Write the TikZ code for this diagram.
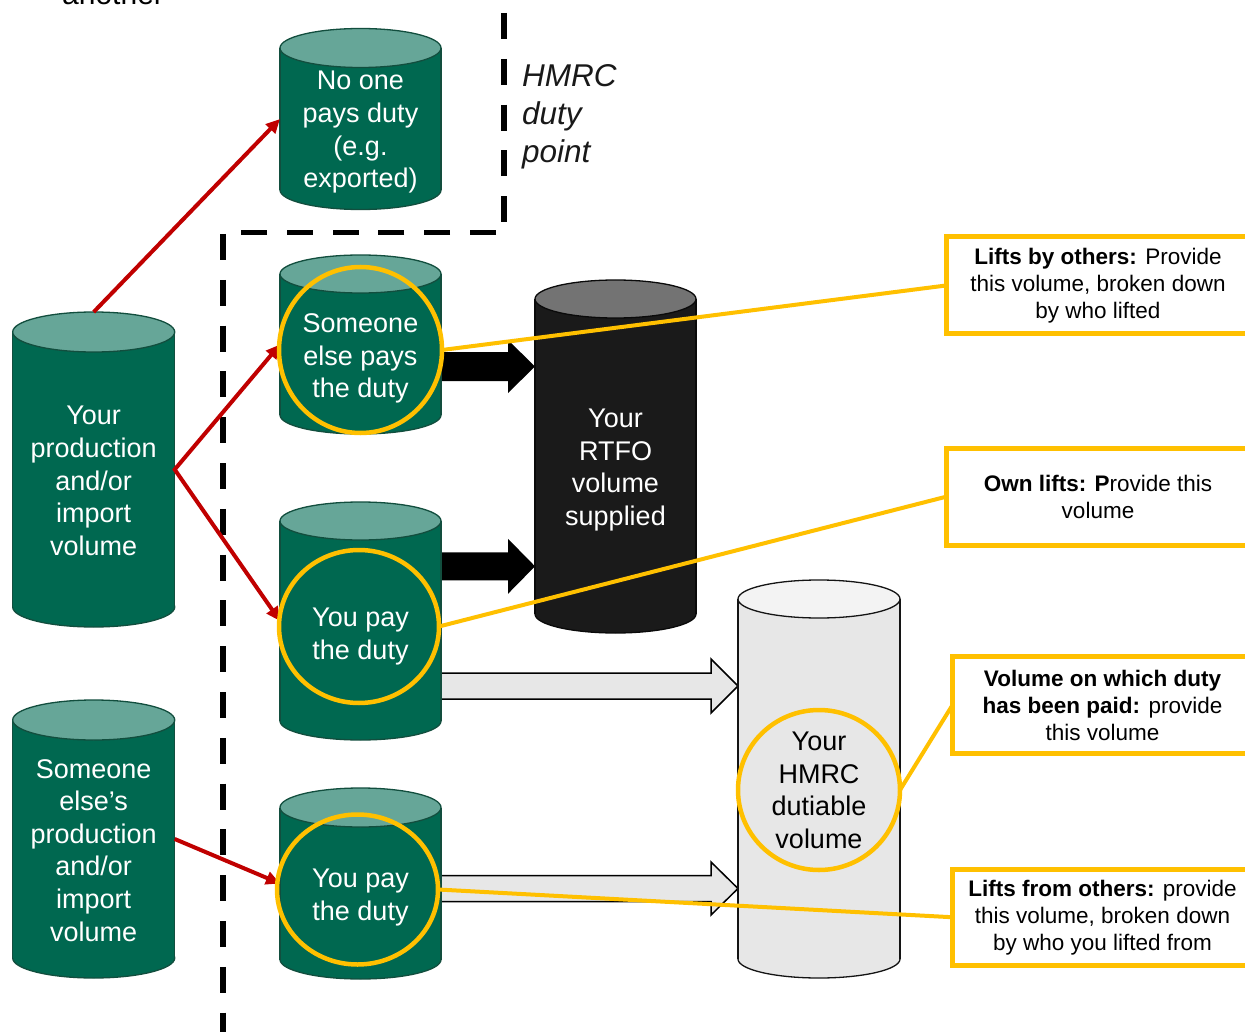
\documentclass[tikz,border=0pt]{standalone}
\usepackage{fontspec}
\setmainfont{Liberation Sans}
\usetikzlibrary{shapes.geometric,arrows.meta}
\definecolor{gbody}{RGB}{0,104,80}
\definecolor{gtop}{RGB}{102,166,152}
\definecolor{gline}{RGB}{18,78,62}
\definecolor{kbody}{RGB}{26,26,26}
\definecolor{ktop}{RGB}{115,115,115}
\definecolor{kline}{RGB}{10,10,10}
\definecolor{wbody}{RGB}{231,231,231}
\definecolor{wtop}{RGB}{243,243,243}
\definecolor{wline}{RGB}{20,20,20}
\definecolor{dred}{RGB}{192,0,0}
\definecolor{gold}{RGB}{255,192,0}
% #1 name, #2 cx, #3 rx, #4 y top centre, #5 y bottom centre, #6 ry, #7 body, #8 top, #9 line
\newcommand{\drawcyl}[9]{%
  \draw[cylline, draw=#9, fill=#7] (#2,#5) ellipse [x radius=#3pt, y radius=#6pt];
  \fill[#7] (#2-#3,#4) rectangle (#2+#3,#5);
  \draw[cylline, draw=#9] (#2-#3,#4) -- (#2-#3,#5) (#2+#3,#4) -- (#2+#3,#5);
  \draw[cylline, draw=#9, fill=#8] (#2,#4) ellipse [x radius=#3pt, y radius=#6pt];
  \node[cylbox, minimum width={2*#3}, minimum height={#5-#4+2*#6}] (#1) at (#2,{(#4+#5)/2}) {};
}
% #1 x start, #2 x tip, #3 y centre, #4 shaft half, #5 head half, #6 head length, #7 style
\newcommand{\blockarrow}[7]{%
  \path[#7] (#1,#3-#4) -- (#2-#6,#3-#4) -- (#2-#6,#3-#5) -- (#2,#3)
    -- (#2-#6,#3+#5) -- (#2-#6,#3+#4) -- (#1,#3+#4) -- cycle;
}
\begin{document}
\begin{tikzpicture}[x=1pt,y=-1pt,
  cylline/.style={line width=1.3pt},
  cylbox/.style={rectangle, inner sep=0pt, outer sep=0pt},
  cyltext/.style={text=white, align=center, anchor=north, inner sep=0pt, font=\fontsize{27}{32.6}\selectfont},
  hilite/.style={ellipse, draw=gold, line width=4.5pt, inner sep=0pt, outer sep=0pt},
  redarrow/.style={draw=dred, line width=4pt, line join=miter},
  goldline/.style={draw=gold, line width=4pt},
  callout/.style={rectangle, draw=gold, line width=5pt, fill=white, align=center, inner sep=0pt, outer sep=0pt, font=\fontsize{22.5}{27}\selectfont},
  dutyline/.style={line width=5.5pt, dash pattern=on 26pt off 19.8pt},
  blk/.style={fill=black},
  wht/.style={fill=wbody, draw=black, line width=1.5pt, line join=miter}
]
\useasboundingbox (0,0) rectangle (1245,1032);
\fill[white] (0,0) rectangle (1245,1032);
\clip (0,0) rectangle (1245,1032);

% partial text at the top edge
\node[anchor=base west, inner sep=0pt, font=\fontsize{30}{36}\selectfont] (anoth) at (62,5) {another};

% HMRC duty point boundary
\draw[dutyline] (504,13) -- (504,222);
\draw[dutyline] (496,232.5) -- (240,232.5);
\draw[dutyline] (223,234) -- (223,1040);
\node[anchor=north west, inner sep=0pt, align=left, text=black!90, font=\fontsize{31.5}{38}\selectfont\itshape] (hmrc) at (522,64.3) {HMRC\\duty\\point};

% block arrows (under the cylinders)
\blockarrow{430}{535}{366.5}{14.5}{26.5}{27}{blk}
\blockarrow{430}{535}{566.3}{14}{27.5}{27}{blk}
\blockarrow{430}{738}{686}{13}{27}{27}{wht}
\blockarrow{430}{738}{888.5}{13}{26.5}{27}{wht}

% cylinders
\drawcyl{A}{360.5}{80.5}{48}{190}{19.5}{gbody}{gtop}{gline}
\drawcyl{B}{360.5}{80.5}{274}{415}{19}{gbody}{gtop}{gline}
\drawcyl{C}{360.5}{80.5}{521}{721}{19}{gbody}{gtop}{gline}
\drawcyl{D}{360.5}{80.5}{807.5}{959.5}{19.5}{gbody}{gtop}{gline}
\drawcyl{E}{93.7}{81}{332}{607}{20}{gbody}{gtop}{gline}
\drawcyl{F}{93.7}{81}{720}{958}{20}{gbody}{gtop}{gline}
\drawcyl{R}{615.5}{80.5}{299}{614}{19}{kbody}{ktop}{kline}
\drawcyl{H}{819}{81}{599}{959}{19}{wbody}{wtop}{wline}

% red flows
\draw[redarrow, -{Triangle[length=14pt,width=13pt]}] (E.north) -- (A.west);
\draw[redarrow, {Triangle[length=14pt,width=13pt]}-{Triangle[length=14pt,width=13pt]}] (B.west) -- (E.east) -- (C.west);
\draw[redarrow, -{Triangle[length=14pt,width=13pt]}] (F.east) -- (D.west);

% highlight rings
\node[hilite, minimum width=163pt, minimum height=166pt] (cB) at (360.5,350) {};
\node[hilite, minimum width=160pt, minimum height=153pt] (cC) at (359,626.5) {};
\node[hilite, minimum width=161pt, minimum height=150pt] (cD) at (357.5,889.5) {};
\node[hilite, minimum width=162pt, minimum height=160pt] (cH) at (819,790) {};

% cylinder texts
\node[cyltext] (tA) at (360.5,71.2) {No one\\pays duty\\(e.g.\\exported)};
\node[cyltext] (tB) at (360.5,313.5) {Someone\\else pays\\the duty};
\node[cyltext] (tC) at (360.5,608) {You pay\\the duty};
\node[cyltext] (tD) at (360.5,869) {You pay\\the duty};
\node[cyltext] (tE) at (93.7,406.2) {Your\\production\\and/or\\import\\volume};
\node[cyltext] (tF) at (93.7,759) {Someone\\else’s\\production\\and/or\\import\\volume};
\node[cyltext] (tR) at (615.5,408.7) {Your\\RTFO\\volume\\supplied};
\node[cyltext, text=black] (tH) at (819,732) {Your\\HMRC\\dutiable\\volume};

% callouts
\node[callout, minimum width=304pt, minimum height=97pt] (L1) at (1098,285.5)
  {\textbf{Lifts by others:} Provide\\this volume, broken down\\by who lifted};
\node[callout, minimum width=304pt, minimum height=97.5pt] (L2) at (1098,496.75)
  {\textbf{Own lifts: P}rovide this\\volume};
\node[callout, minimum width=300pt, minimum height=96.6pt] (L3) at (1102.5,705)
  {\textbf{Volume on which duty}\\\textbf{has been paid:} provide\\this volume};
\node[callout, minimum width=300pt, minimum height=96.5pt] (L4) at (1102.5,917.25)
  {\textbf{Lifts from others:} provide\\this volume, broken down\\by who you lifted from};

% connectors to callouts
\draw[goldline] (cB.east) -- (L1.west);
\draw[goldline] (cC.east) -- (L2.west);
\draw[goldline] (cH.east) -- (L3.west);
\draw[goldline] (cD.east) -- (L4.west);
\end{tikzpicture}
\end{document}
